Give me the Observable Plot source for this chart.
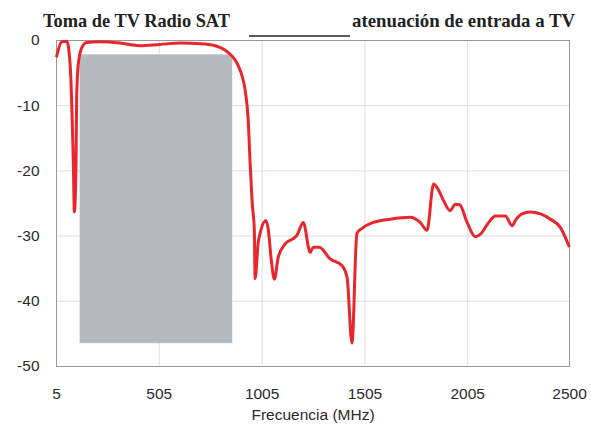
<!DOCTYPE html>
<html>
<head>
<meta charset="utf-8">
<script src="https://cdn.jsdelivr.net/npm/d3@7"></script>
<script src="https://cdn.jsdelivr.net/npm/@observablehq/plot@0.6"></script>
<style>
  html, body { margin: 0; padding: 0; background: #fff; }
  #wrap { position: relative; width: 591px; height: 426px; overflow: hidden; }
  .ttl { position: absolute; top: 10px; font-family: "Liberation Serif", "Times New Roman", serif; font-weight: bold; font-size: 19px; color: #222; white-space: nowrap; transform-origin: left top; }
  #swatch { position: absolute; left: 249px; top: 35px; width: 101px; height: 0; border-top: 2px solid #5a5a5a; }
  svg { display: block; }
</style>
</head>
<body>
<div id="wrap">
  <div class="ttl" id="t1"></div>
  <div id="swatch"></div>
  <div class="ttl" id="t2"></div>
</div>
<script>
const titleLeft = "Toma de TV Radio SAT";
const legendLabel = "atenuación de entrada a TV";
const xLabel = "Frecuencia (MHz)";

const xTicks = [5, 505, 1005, 1505, 2005, 2500];
const yTicks = [0, -10, -20, -30, -40, -50];

// Frequency band highlighted (MHz) and its attenuation extent (dB)
const bandX = [120, 862];
const bandY = [-2.2, -46.5];

// Measured response
const freq = [6,30,55,71,87,92,100,103,111,128,152,217,314,411,509,606,704,777,826,859,888,
  908,923,937,947,957,967,971,986,995,1023,1035,1049,1065,1083,1117,1156,1174,1205,1239,1254,
  1283,1336,1393,1418,1442,1466,1491,1546,1628,1726,1774,1807,1839,1864,1888,1920,1945,1966,
  2002,2042,2067,2107,2140,2188,2221,2237,2269,2310,2359,2407,2456,2497];
const atten = [-2.4,-0.2,-0.1,-3.6,-19,-26.3,-19,-8.8,-3.6,-1.1,-0.3,-0.2,-0.4,-0.8,-0.6,-0.4,-0.5,-0.8,-1.5,-2.4,-3.8,
  -5.5,-7.7,-12,-19,-25,-29,-36.5,-31,-29.6,-27.6,-29,-33.5,-36.6,-33.3,-31.2,-30.4,-29.9,-27.9,-32.5,-31.7,
  -31.7,-33.5,-34.5,-36.3,-46.4,-29.6,-28.8,-27.9,-27.4,-27.1,-27.9,-29.1,-22.0,-23.0,-24.6,-26.1,-25.1,-25.2,
  -27.9,-30.1,-29.7,-27.9,-26.9,-26.9,-28.4,-27.6,-26.6,-26.3,-26.6,-27.4,-28.7,-31.5];

const data = freq.map((f, i) => ({f, a: atten[i]}));
const band = [{x1: bandX[0], x2: bandX[1], y1: bandY[0], y2: bandY[1]}];

const plot = Plot.plot({
  width: 591,
  height: 426,
  marginTop: 40,
  marginBottom: 60,
  marginLeft: 56,
  marginRight: 22,
  style: {fontFamily: "'Liberation Sans', Arial, sans-serif", fontSize: "15px", color: "#333", background: "#fff"},
  x: {domain: [5, 2500]},
  y: {domain: [-50, 0]},
  marks: [
    Plot.gridX([505, 1005, 1505, 2005], {stroke: "#dcdfe6", strokeOpacity: 1}),
    Plot.gridY([-10, -20, -30, -40], {stroke: "#dcdfe6", strokeOpacity: 1}),
    Plot.rectY(band, {x1: "x1", x2: "x2", y1: "y1", y2: "y2", fill: "#b6babf"}),
    Plot.frame({stroke: "#999"}),
    Plot.axisX(xTicks, {tickSize: 0, tickPadding: 21, tickFormat: d => String(d), label: null, fill: "#2a2a2a", fontSize: 15.5, letterSpacing: "-0.3px"}),
    Plot.axisY(yTicks, {tickSize: 0, tickPadding: 17, tickFormat: d => String(d), label: null, fill: "#2a2a2a", fontSize: 15.5, letterSpacing: "-0.5px"}),
    Plot.text([xLabel], {frameAnchor: "bottom", dy: 53, text: d => d, fill: "#2a2a2a", fontSize: 15.5}),
    Plot.line(data, {x: "f", y: "a", stroke: "#e8262b", strokeWidth: 3, curve: "monotone-x"})
  ]
});
const wrap = document.getElementById("wrap");
wrap.insertBefore(plot, wrap.firstChild);
const t1 = document.getElementById("t1");
const t2 = document.getElementById("t2");
t1.textContent = titleLeft;
t2.textContent = legendLabel;
t1.style.left = "43px";
t2.style.left = "352px";
// fit measured widths
function fit(el, w) { const r = el.getBoundingClientRect().width; el.style.transform = `scaleX(${w / r})`; }
fit(t1, 187);
fit(t2, 223);
</script>
</body>
</html>
